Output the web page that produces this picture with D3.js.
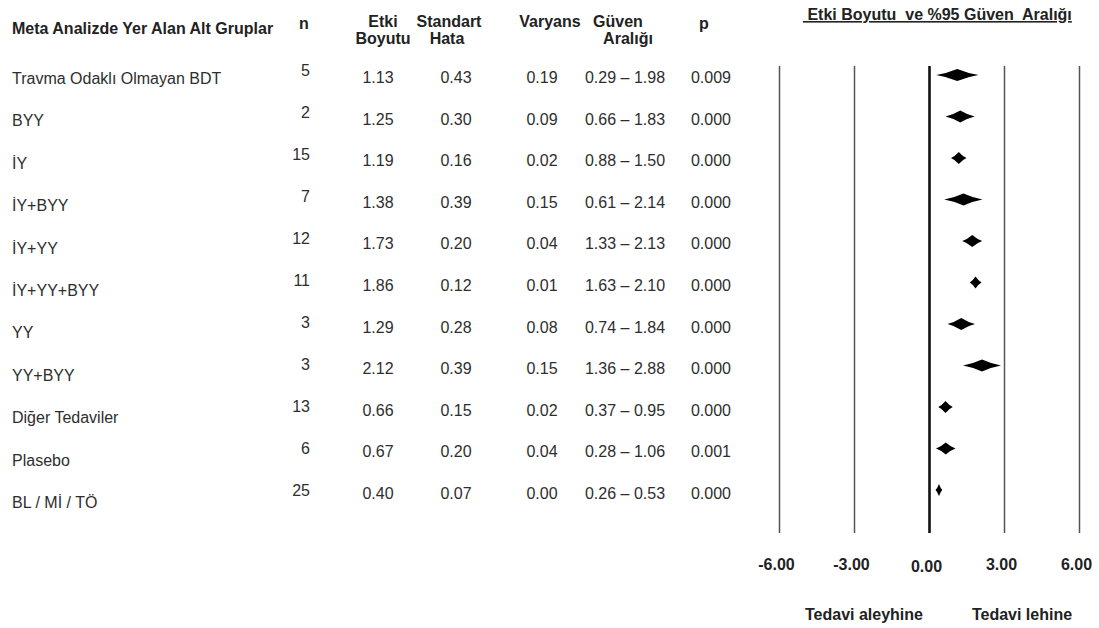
<!DOCTYPE html>
<html>
<head>
<meta charset="utf-8">
<script src="https://cdn.jsdelivr.net/npm/d3@7/dist/d3.min.js"></script>
<style>
  html, body { margin: 0; padding: 0; background: #fff; }
  svg { display: block; font-family: "Liberation Sans", Arial, sans-serif; }
</style>
</head>
<body>
<svg id="chart" width="1099" height="628"></svg>
<script>
// Subgroup table and forest plot values
const groups = ["Travma Odaklı Olmayan BDT", "BYY", "İY", "İY+BYY", "İY+YY", "İY+YY+BYY",
  "YY", "YY+BYY", "Diğer Tedaviler", "Plasebo", "BL / Mİ / TÖ"];
const nStudies = [5, 2, 15, 7, 12, 11, 3, 3, 13, 6, 25];
const effectSize = [1.13, 1.25, 1.19, 1.38, 1.73, 1.86, 1.29, 2.12, 0.66, 0.67, 0.40];
const stdError = [0.43, 0.30, 0.16, 0.39, 0.20, 0.12, 0.28, 0.39, 0.15, 0.20, 0.07];
const variance = [0.19, 0.09, 0.02, 0.15, 0.04, 0.01, 0.08, 0.15, 0.02, 0.04, 0.00];
const ciLower = [0.29, 0.66, 0.88, 0.61, 1.33, 1.63, 0.74, 1.36, 0.37, 0.28, 0.26];
const ciUpper = [1.98, 1.83, 1.50, 2.14, 2.13, 2.10, 1.84, 2.88, 0.95, 1.06, 0.53];
const pValues = ["0.009", "0.000", "0.000", "0.000", "0.000", "0.000", "0.000", "0.000", "0.000", "0.001", "0.000"];
const axisTicks = [-6, -3, 0, 3, 6];

const svg = d3.select("#chart");
const textColor = "#2e2e2e";
// Two decimals with a plain hyphen as the minus sign
const f2 = d3.formatLocale({ decimal: ".", thousands: ",", grouping: [3], currency: ["", ""], minus: "-" }).format(".2f");

// Row positions (text baselines and diamond centres)
const yRow = d3.scalePoint().domain(groups).range([75, 490]);
const yValue = d3.scalePoint().domain(groups).range([83, 499]);
const yLabel = d3.scalePoint().domain(groups).range([84, 508]);
const yN = d3.scalePoint().domain(groups).range([76, 496]);

// Forest plot scale
const x = d3.scaleLinear().domain([-6, 6]).range([779, 1079]);
const plotTop = 66, plotBottom = 533;

// Column headers
const fontSize = 16;
function header(lines, xs, y0, anchor) {
  const t = svg.append("text")
    .attr("y", y0)
    .attr("text-anchor", anchor || "middle")
    .attr("font-size", fontSize).attr("font-weight", "bold")
    .attr("fill", "#222");
  lines.forEach((l, i) => t.append("tspan").attr("x", xs[i]).attr("dy", i === 0 ? 0 : 17).text(l));
}
header(["Meta Analizde Yer Alan Alt Gruplar"], [12], 34, "start");
header(["n"], [304], 29);
header(["Etki", "Boyutu"], [383, 383], 27);
header(["Standart", "Hata"], [449, 447], 27);
header(["Varyans"], [550], 27);
header(["Güven", "Aralığı"], [618, 628], 27);
header(["p"], [704], 29);

// Table body
function column(values, xPos, yScale, anchor) {
  svg.append("g").selectAll("text").data(groups).join("text")
    .attr("x", xPos)
    .attr("y", d => yScale(d))
    .attr("text-anchor", anchor || "middle")
    .attr("font-size", fontSize)
    .attr("fill", textColor)
    .text((d, i) => values[i]);
}
column(groups, 12, yLabel, "start");
column(nStudies, 310, yN, "end");
column(effectSize.map(f2), 378, yValue);
column(stdError.map(f2), 456, yValue);
column(variance.map(f2), 542, yValue);
column(ciLower.map((d, i) => f2(d) + " – " + f2(ciUpper[i])), 625, yValue);
column(pValues, 711, yValue);

// Plot title
svg.append("text")
  .attr("x", 803).attr("y", 20)
  .attr("text-anchor", "start")
  .attr("font-size", fontSize).attr("font-weight", "bold")
  .attr("fill", "#222")
  .attr("text-decoration", "underline")
  .attr("xml:space", "preserve")
  .text(" Etki Boyutu  ve %95 Güven  Aralığı");

// Reference lines and tick labels
const axis = d3.axisBottom(x)
  .tickValues(axisTicks)
  .tickFormat(f2)
  .tickSizeInner(-(plotBottom - plotTop))
  .tickSizeOuter(0)
  .tickPadding(0);
const gAxis = svg.append("g")
  .attr("transform", `translate(0,${plotBottom})`)
  .call(axis);
gAxis.select(".domain").remove();
gAxis.selectAll(".tick line")
  .attr("stroke", d => d === 0 ? "#111" : "#555")
  .attr("stroke-width", d => d === 0 ? 2.6 : 1.5);
gAxis.selectAll(".tick text")
  .attr("font-size", fontSize)
  .attr("font-weight", "bold")
  .attr("font-family", "Liberation Sans, Arial, sans-serif")
  .attr("fill", "#222")
  .attr("x", -3)
  .attr("dy", null)
  .attr("y", d => d === 0 ? 39 : 37);

// Effect size diamonds spanning the confidence interval
const dh = 12;
function diamond(i) {
  const x0 = x(ciLower[i]), x1 = x(ciUpper[i]), xc = x(effectSize[i]);
  const y = yRow(groups[i]), h = dh / 2;
  const cy = h * 0.28;
  return `M${x0},${y}` +
    `Q${(x0 + xc) / 2},${y - cy} ${xc},${y - h}` +
    `Q${(xc + x1) / 2},${y - cy} ${x1},${y}` +
    `Q${(xc + x1) / 2},${y + cy} ${xc},${y + h}` +
    `Q${(x0 + xc) / 2},${y + cy} ${x0},${y}Z`;
}
svg.append("g").selectAll("path").data(groups).join("path")
  .attr("d", (d, i) => diamond(i))
  .attr("fill", "#000");

// Direction labels
[["Tedavi aleyhine", 864], ["Tedavi lehine", 1022]].forEach(([label, cx]) => {
  svg.append("text").attr("x", cx).attr("y", 620)
    .attr("text-anchor", "middle").attr("font-size", fontSize)
    .attr("font-weight", "bold").attr("fill", "#222")
    .text(label);
});
</script>
</body>
</html>
